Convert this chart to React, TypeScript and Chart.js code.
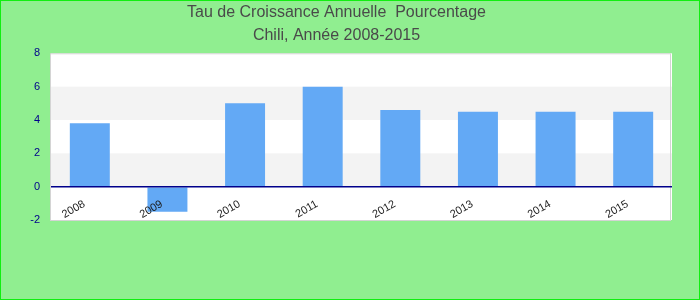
import { useEffect, useRef } from "react";
import { Chart, registerables } from "chart.js";

Chart.register(...registerables);

const categories = ["2008", "2009", "2010", "2011", "2012", "2013", "2014", "2015"];
const growthValues = [3.8, -1.5, 5.0, 6.0, 4.6, 4.5, 4.5, 4.5];
const yMin = -2;
const yMax = 8;
const yStep = 2;
const titleLines = ["Tau de Croissance Annuelle  Pourcentage", "Chili, Année 2008-2015"];

const FONT = "'Liberation Sans', Arial, sans-serif";

const bandsPlugin = {
  id: "bands",
  beforeDraw(chart: any) {
    const { ctx, chartArea, scales } = chart;
    const { left, right, top, bottom } = chartArea;
    const y = scales.y;
    ctx.save();
    ctx.fillStyle = "#ffffff";
    ctx.fillRect(left, top, right - left, bottom - top);
    const ticks = y.ticks;
    for (let i = 0; i < ticks.length - 1; i++) {
      if (i % 2 === 1) {
        const y1 = y.getPixelForValue(ticks[i].value);
        const y2 = y.getPixelForValue(ticks[i + 1].value);
        ctx.fillStyle = "#f3f3f3";
        ctx.fillRect(left, y2, right - left, y1 - y2);
      }
    }
    ctx.strokeStyle = "#d4d4d4";
    ctx.lineWidth = 1;
    ctx.strokeRect(left - 0.5, top + 0.5, right - left - 1, bottom - top);
    ctx.restore();
  },
};

export default function App() {
  const canvasRef = useRef<HTMLCanvasElement | null>(null);

  useEffect(() => {
    if (!canvasRef.current) return;
    const chart = new Chart(canvasRef.current, {
      type: "bar",
      data: {
        labels: categories,
        datasets: [
          {
            data: growthValues,
            backgroundColor: "#63a9f5",
            borderWidth: 0,
            barPercentage: 0.515,
            categoryPercentage: 1,
          },
        ],
      },
      options: {
        responsive: false,
        animation: false,
        layout: { padding: { left: 0, right: 27, top: 0, bottom: 0 } },
        plugins: {
          legend: { display: false },
          tooltip: { enabled: false },
          title: {
            display: true,
            text: titleLines,
            color: "#4a4a4a",
            font: { family: FONT, size: 16, weight: "normal", lineHeight: 1.456 },
            padding: { top: 0, bottom: 5.7 },
          },
        },
        scales: {
          x: {
            offset: true,
            grid: { display: false, drawTicks: false },
            border: { display: false },
            ticks: {
              z: 2,
              mirror: true,
              minRotation: 30,
              maxRotation: 30,
              padding: 11,
              labelOffset: 1,
              color: "#1a1a1a",
              font: { family: FONT, size: 11 },
            },
            afterFit: (scale: any) => {
              scale.height = 79;
            },
          },
          y: {
            min: yMin,
            max: yMax,
            ticks: {
              stepSize: yStep,
              padding: 11,
              color: "#00008b",
              font: { family: FONT, size: 11 },
            },
            grid: {
              z: 1,
              drawTicks: false,
              color: (ctx: any) => (ctx.tick && ctx.tick.value === 0 ? "#00008b" : "rgba(0,0,0,0)"),
              lineWidth: 1.5,
            },
            border: { display: false },
            afterFit: (scale: any) => {
              scale.width = 50;
            },
          },
        },
      },
      plugins: [bandsPlugin],
    });
    return () => chart.destroy();
  }, []);

  return (
    <div
      style={{
        position: "fixed",
        left: 0,
        top: 0,
        width: 700,
        height: 300,
        boxSizing: "border-box",
        border: "1px solid #11ee11",
        background: "#90ee90",
      }}
    >
      <canvas ref={canvasRef} width={698} height={298} style={{ display: "block" }} />
    </div>
  );
}
